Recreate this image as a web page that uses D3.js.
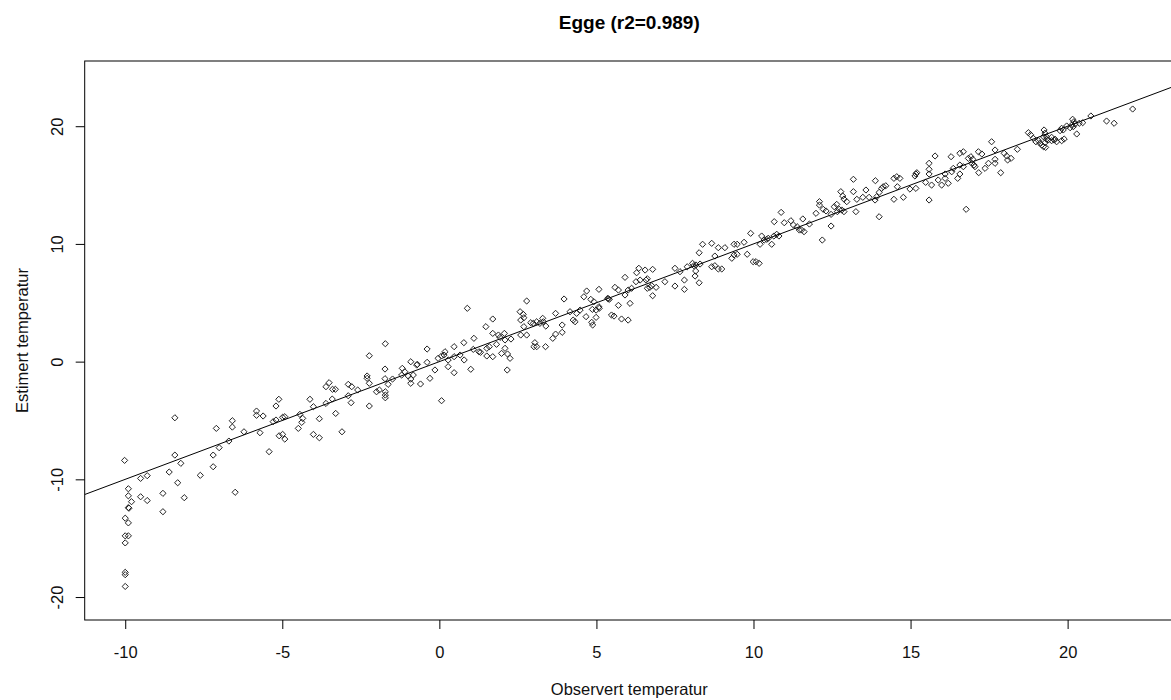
<!DOCTYPE html>
<html>
<head>
<meta charset="utf-8">
<script src="https://cdn.jsdelivr.net/npm/d3@7"></script>
<style>
  html, body { margin: 0; padding: 0; background: #fff; }
  svg { display: block; font-family: "Liberation Sans", Arial, sans-serif; }
</style>
</head>
<body>
<svg id="chart" width="1171" height="700"></svg>
<script>
// ---------------- DATA ----------------
const chartTitle = "Egge (r2=0.989)";
const xLabel = "Observert temperatur";
const yLabel = "Estimert temperatur";
const xTicks = [-10, -5, 0, 5, 10, 15, 20];
const yTicks = [-20, -10, 0, 10, 20];
const xDomain = [-11.29, 23.38];
const yDomain = [-21.95, 25.54];
const fitLine = [0.0, 1.0]; // intercept, slope

const obsX = [
-10.02,-8.42,-9.9,-9.9,-9.8,-9.9,-9.88,-10.0,-9.9,-10.0,-9.9,-10.0,-10.0,-10.0,-10.0,-9.51,-9.3,-9.51,-9.3,-8.8,-8.8,-8.6,-8.42,-8.23,-8.33,-8.12,-7.61,-7.2,-7.2,-7.01,-7.1,-6.59,-6.59,-6.7,-6.22,-6.5,-5.82,-5.82,-5.71,
-5.42,-5.61,-5.2,-5.11,-5.29,-5.2,-4.99,-4.92,-5.1,-4.99,-4.92,-4.49,-4.38,-4.44,-4.35,-4.12,-4.01,-3.82,-4.01,-3.82,-3.61,-3.41,-3.3,-3.1,-3.61,-3.51,-3.4,-3.31,-2.9,-2.81,-2.9,-2.79,-2.6,-2.23,-2.3,-2.3,-2.23,-2.23,-2.0,-1.91,-1.72,-1.72,-1.72,-1.73,-1.73,-1.63,-1.72,-1.49,-1.18,-1.1,-0.91,-0.91,-0.91,-0.83,-0.72,
-1.2,-0.99,-0.7,-0.6,-0.39,-0.39,-0.3,-0.14,-0.04,0.07,0.15,0.07,0.18,0.28,0.28,0.47,0.47,0.47,0.66,0.78,0.79,0.89,1.0,1.1,1.08,1.26,1.31,1.48,1.51,1.51,1.59,1.7,1.7,1.7,1.82,1.88,1.93,1.98,2.07,2.09,2.09,2.17,2.25,2.16,2.28,2.57,2.59,2.59,2.67,2.69,2.78,2.69,2.78,2.91,2.99,3.1,3.04,3.01,3.1,3.2,3.29,3.31,3.38,3.39,3.61,3.7,3.7,3.91,3.91,3.97,4.16,4.26,4.32,4.37,
4.48,4.67,4.69,4.6,4.82,4.92,4.87,4.85,4.88,4.99,5.08,5.08,4.99,5.09,5.36,5.41,5.38,5.48,5.56,5.7,5.8,6.01,5.59,5.7,5.91,5.91,6.07,6.01,6.12,6.28,6.35,6.26,6.39,6.55,6.58,6.62,6.62,6.7,6.76,6.79,6.79,6.9,7.18,7.5,7.5,7.66,7.8,7.8,7.89,8.06,8.1,8.17,8.3,8.16,8.14,8.27,8.27,8.38,8.67,8.77,8.67,8.77,8.88,8.99,8.88,9.09,9.31,9.38,9.38,9.48,
9.7,9.48,9.8,9.91,9.99,10.08,10.18,10.21,10.26,10.34,10.42,10.47,10.58,10.65,10.74,10.81,10.66,10.88,10.98,11.19,11.27,11.39,11.46,11.53,11.61,11.57,11.78,11.99,12.1,12.1,12.19,12.22,12.31,12.47,12.47,12.57,12.65,12.67,12.73,12.78,12.84,12.88,12.81,12.88,12.97,13.18,13.18,13.26,13.29,13.48,13.58,13.68,13.88,13.87,13.92,14.0,14.08,14.13,14.0,14.21,14.47,14.47,14.56,14.58,
14.66,14.77,14.98,15.17,15.14,15.17,15.2,15.48,15.59,15.59,15.59,15.59,15.67,15.78,15.88,15.99,16.1,16.1,16.2,16.29,16.31,16.36,16.5,16.57,16.57,16.68,16.57,16.68,16.77,16.84,16.92,16.98,16.95,17.02,17.05,17.16,17.27,17.17,17.37,17.48,17.58,17.69,17.69,17.69,17.87,17.98,18.06,18.09,18.2,18.4,18.75,18.82,18.91,18.99,19.07,19.12,19.18,19.23,19.28,19.23,19.28,19.25,19.33,19.38,19.49,19.57,19.65,19.76,
19.49,19.6,19.81,19.89,19.81,19.86,19.97,20.08,20.13,20.16,20.2,20.24,20.18,20.29,20.37,20.48,20.74,21.24,21.48,22.07,19.3,19.33
];
const estY = [
-8.39,-4.77,-10.8,-11.4,-11.9,-12.4,-12.45,-13.3,-13.7,-14.8,-14.8,-15.4,-17.9,-18.1,-19.1,-9.92,-9.69,-11.48,-11.8,-11.19,-12.75,-9.38,-7.94,-8.64,-10.29,-11.56,-9.66,-7.94,-8.93,-7.31,-5.67,-5.02,-5.56,-6.75,-5.96,-11.1,-4.2,-4.56,-6.04,
-7.65,-4.62,-3.77,-3.2,-5.1,-4.96,-4.73,-4.68,-6.3,-6.18,-6.58,-5.67,-5.16,-4.48,-4.82,-3.2,-3.83,-4.85,-6.18,-6.47,-3.55,-3.18,-4.4,-5.96,-2.13,-1.79,-2.35,-2.35,-2.9,-3.49,-1.93,-2.13,-2.41,-3.77,-1.22,-1.42,-1.84,0.5,-2.56,-2.41,-2.56,-2.84,-3.07,-0.63,-1.45,-1.93,1.52,-1.48,-0.57,-0.86,-0.01,-1.48,-1.84,-1.14,-0.29,
-1.14,-1.22,-0.23,-1.9,-0.06,1.07,-1.42,-0.71,0.28,0.48,0.56,-3.32,0.84,-0.43,0.14,1.27,0.42,-0.94,0.56,1.61,0.14,4.53,-0.65,1.98,1.04,0.84,0.79,2.97,1.13,0.48,1.27,3.62,2.4,0.42,1.47,2.26,2.06,0.7,2.4,1.84,1.13,0.65,0.28,-0.71,1.92,4.24,3.53,2.26,4.02,3.73,5.15,2.97,2.26,3.31,3.25,3.39,1.61,1.27,1.27,3.25,3.68,3.39,1.27,3.02,1.98,4.1,2.34,3.11,2.49,5.32,4.24,3.53,3.39,4.1,
4.38,3.82,6.0,5.51,5.29,5.09,4.44,3.34,3.11,3.76,6.14,4.66,4.38,4.53,5.38,5.29,5.33,3.96,3.87,4.78,3.62,3.53,6.31,6.08,7.16,5.66,4.95,6.08,6.23,7.55,7.93,6.79,6.93,7.78,6.93,7.04,6.23,6.31,6.45,5.6,7.84,6.31,6.79,7.93,6.42,7.64,6.93,6.14,8.06,8.35,8.15,8.21,8.29,7.7,7.27,6.7,9.25,9.97,10.05,8.97,8.06,8.15,7.87,7.87,9.68,9.68,8.78,9.06,9.97,9.97,
10.14,9.12,9.12,10.9,8.49,8.49,8.35,9.97,10.67,10.33,10.39,10.48,9.97,10.67,10.82,10.67,11.89,12.68,11.8,11.97,11.61,11.46,11.18,11.18,11.04,12.12,11.69,12.6,13.59,13.3,10.33,12.94,12.8,11.52,12.51,13.16,13.36,12.74,12.94,14.44,14.07,13.81,12.88,12.74,13.59,15.49,14.44,12.74,13.79,13.96,14.58,13.96,15.37,13.73,14.01,14.38,14.72,14.86,12.31,14.94,13.79,15.57,15.71,14.86,
15.57,13.96,14.66,14.72,15.77,15.94,16.05,15.23,16.85,16.34,15.94,13.73,15.0,17.47,15.43,15.0,15.57,15.94,15.15,17.41,16.13,16.42,15.57,15.94,17.7,17.83,16.7,16.56,12.94,17.27,17.41,17.19,16.85,16.7,16.56,17.83,17.64,16.05,16.42,16.85,18.68,17.98,17.19,16.85,16.05,17.7,17.47,17.13,17.27,18.04,19.45,19.28,18.97,18.68,18.77,18.55,18.4,18.26,18.6,19.11,19.4,19.68,18.89,18.83,19.06,18.83,18.68,19.62,
18.77,18.89,18.77,18.91,19.82,19.68,20.02,19.87,20.1,20.59,20.38,20.19,19.96,19.34,20.25,20.3,20.87,20.44,20.25,21.46,18.2,19.1
];

// ---------------- LAYOUT ----------------
const plot = { left: 84.7, right: 1173.8, top: 61, bottom: 620 };
const fontFam = "'Liberation Sans', Arial, sans-serif";

const svg = d3.select("#chart");
const x = d3.scaleLinear().domain(xDomain).range([plot.left, plot.right]);
const y = d3.scaleLinear().domain(yDomain).range([plot.bottom, plot.top]);

svg.append("defs").append("clipPath").attr("id", "clip")
  .append("rect")
  .attr("x", plot.left).attr("y", plot.top)
  .attr("width", plot.right - plot.left).attr("height", plot.bottom - plot.top);

// points (open markers)
const pts = obsX.map((v, i) => ({ x: v, y: estY[i] }));
const r = 3.1;
svg.append("g")
  .selectAll("path")
  .data(pts)
  .join("path")
  .attr("transform", d => `translate(${x(d.x)},${y(d.y)})`)
  .attr("d", `M0,${-r}L${r},0L0,${r}L${-r},0Z`)
  .attr("fill", "none")
  .attr("stroke", "#222")
  .attr("stroke-width", 1);

// fitted line
svg.append("line")
  .attr("clip-path", "url(#clip)")
  .attr("x1", x(xDomain[0])).attr("y1", y(fitLine[0] + fitLine[1] * xDomain[0]))
  .attr("x2", x(xDomain[1])).attr("y2", y(fitLine[0] + fitLine[1] * xDomain[1]))
  .attr("stroke", "#000").attr("stroke-width", 1);

// box
svg.append("rect")
  .attr("x", plot.left).attr("y", plot.top)
  .attr("width", plot.right - plot.left).attr("height", plot.bottom - plot.top)
  .attr("fill", "none").attr("stroke", "#000").attr("stroke-width", 1);

const fmt = d => String(d); // plain hyphen-minus like the original

// x axis
const gx = svg.append("g")
  .attr("transform", `translate(0,${plot.bottom})`)
  .call(d3.axisBottom(x).tickValues(xTicks).tickSize(9).tickFormat(fmt));
gx.select(".domain").remove();
gx.selectAll(".tick line").attr("stroke", "#000");
gx.selectAll(".tick text")
  .attr("y", 37.7).attr("dy", null)
  .attr("fill", "#111")
  .style("font-size", "16.5px")
  .style("font-family", fontFam);

// y axis
const gy = svg.append("g")
  .attr("transform", `translate(${plot.left},0)`)
  .call(d3.axisLeft(y).tickValues(yTicks).tickSize(9).tickFormat(fmt));
gy.select(".domain").remove();
gy.selectAll(".tick line").attr("stroke", "#000");
gy.selectAll(".tick text")
  .attr("transform", "rotate(-90)")
  .attr("x", 0).attr("y", -(plot.left - 63)).attr("dy", null)
  .attr("text-anchor", "middle")
  .attr("fill", "#111")
  .style("font-size", "16.5px")
  .style("font-family", fontFam);

// title & labels
const cx = (plot.left + plot.right) / 2;
svg.append("text")
  .attr("x", cx).attr("y", 29)
  .attr("text-anchor", "middle")
  .style("font-size", "19px").style("font-weight", "bold")
  .text(chartTitle);

svg.append("text")
  .attr("x", cx).attr("y", 695)
  .attr("text-anchor", "middle")
  .attr("fill", "#111")
  .style("font-size", "16.5px")
  .text(xLabel);

svg.append("text")
  .attr("transform", `translate(28,${(plot.top + plot.bottom) / 2}) rotate(-90)`)
  .attr("text-anchor", "middle")
  .attr("fill", "#111")
  .style("font-size", "16.5px")
  .text(yLabel);
</script>
</body>
</html>
